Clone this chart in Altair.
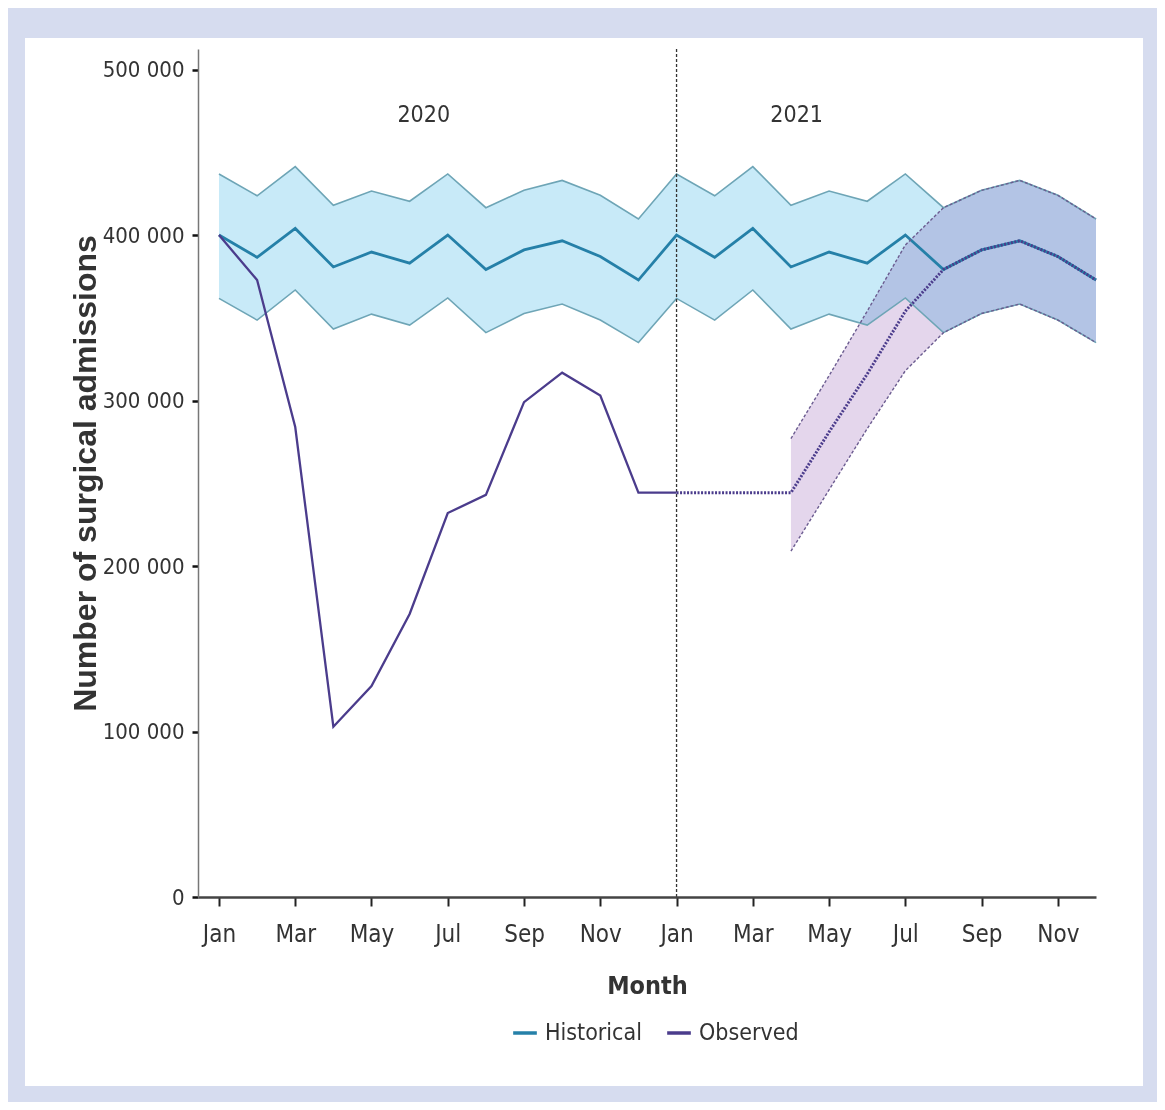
import altair as alt
import pandas as pd

# ---------------- data ----------------
months = list(range(24))  # 0 = Jan 2020 ... 23 = Dec 2021
tick_labels = ["Jan", "Mar", "May", "Jul", "Sep", "Nov"]

hist_mean = [400000, 386500, 404000, 380700, 389700, 383000, 400000, 379200, 391000, 396500, 387000, 372800,
             400000, 386500, 404000, 380700, 389700, 383000, 400000, 379200, 391000, 396500, 387000, 372800]
hist_upper = [436900, 423700, 441300, 418000, 426600, 420400, 436900, 416500, 427000, 433000, 424000, 409700,
              436900, 423700, 441300, 418000, 426600, 420400, 436900, 416500, 427000, 433000, 424000, 409700]
hist_lower = [361700, 348600, 366800, 343200, 352200, 345600, 362000, 341000, 352600, 358300, 348600, 335000,
              361700, 348600, 366800, 343200, 352200, 345600, 362000, 341000, 352600, 358300, 348600, 335000]

obs_months = list(range(13))
observed = [400000, 372800, 284000, 102900, 127500, 171000, 232000, 243000, 299000, 316800, 303000, 244300, 244300]

proj_center_months = list(range(12, 24))
proj_center = [244300, 244300, 244300, 244300, 281000, 316000, 354000, 379200, 391000, 396500, 387000, 372800]

proj_band_months = list(range(15, 24))
proj_upper = [277000, 315000, 354000, 394000, 416500, 427000, 433000, 424000, 409700]
proj_lower = [209000, 246000, 283000, 318000, 341000, 352600, 358300, 348600, 335000]

year_labels = ["2020", "2021"]
year_x = [5.37, 15.15]
year_y = [472500, 472500]

divider_month = [12]

# ---------------- tables ----------------
hist = pd.DataFrame({"m": months, "mean": hist_mean, "up": hist_upper, "lo": hist_lower})
lines = pd.concat([
    pd.DataFrame({"m": months, "v": hist_mean, "series": "Historical", "w": 2.8}),
    pd.DataFrame({"m": obs_months, "v": observed, "series": "Observed", "w": 2.3}),
])
pc = pd.DataFrame({"m": proj_center_months, "v": proj_center})
pb = pd.DataFrame({"m": proj_band_months, "up": proj_upper, "lo": proj_lower})
years = pd.DataFrame({"m": year_x, "v": year_y, "t": year_labels})
div = pd.DataFrame({"m": divider_month})

NARROW = "Liberation Sans Narrow, Arial Narrow, DejaVu Sans Condensed, sans-serif"
BOLD = "Liberation Sans, Arial, sans-serif"

label_js = "[" + ",".join("'%s'" % t for t in tick_labels) + "]"

xscale = alt.Scale(domain=[-0.55, 23], nice=False, zero=False)
yscale = alt.Scale(domain=[0, 512400], nice=False)

xaxis = alt.Axis(
    title="Month", values=list(range(0, 24, 2)),
    labelExpr=label_js + "[(datum.value % 12) / 2]",
    grid=False, domainColor="#444", domainWidth=2.5,
    tickColor="#222", tickWidth=2, tickSize=9,
    labelFont=NARROW, labelFontSize=24, labelColor="#333", labelPadding=16,
    titleFont=NARROW, titleFontSize=25, titleFontWeight="bold", titleColor="#333",
    titleY=96, titleBaseline="alphabetic", zindex=1,
)
yaxis = alt.Axis(
    title="Number of surgical admissions", values=[0, 100000, 200000, 300000, 400000, 500000],
    labelExpr="datum.value == 0 ? '0' : format(datum.value / 1000, 'd') + ' 000'",
    grid=False, domainColor="#777", domainWidth=1.5,
    tickColor="#111", tickWidth=2.5, tickSize=6,
    labelFont=NARROW, labelFontSize=22, labelColor="#333", labelPadding=8,
    titleFont=BOLD, titleFontSize=32, titleFontWeight="bold", titleColor="#333",
    titleX=-113, titleY=424, titleBaseline="middle", titleAngle=270, zindex=1,
)

X = lambda f="m": alt.X(f"{f}:Q", scale=xscale, axis=xaxis)
Xn = lambda f="m": alt.X(f"{f}:Q", scale=xscale)

panel = alt.Chart(pd.DataFrame({"a": [0]})).mark_rect(color="white").encode(
    x=alt.value(-173), x2=alt.value(945), y=alt.value(-11), y2=alt.value(1037)
)

hist_band = alt.Chart(hist).mark_area(color="#c8eaf8", opacity=1).encode(
    x=X(), y=alt.Y("up:Q", scale=yscale, axis=yaxis), y2="lo:Q"
)
proj_band = alt.Chart(pb).mark_area(color="#e4d6ec", opacity=1, blend="multiply").encode(
    x=Xn(), y=alt.Y("up:Q", scale=yscale), y2="lo:Q"
)
hist_up = alt.Chart(hist).mark_line(color="#6ea5b6", strokeWidth=1.6).encode(x=Xn(), y=alt.Y("up:Q", scale=yscale))
hist_lo = alt.Chart(hist).mark_line(color="#6ea5b6", strokeWidth=1.6).encode(x=Xn(), y=alt.Y("lo:Q", scale=yscale))

main_lines = alt.Chart(lines).mark_line().encode(
    x=Xn(), y=alt.Y("v:Q", scale=yscale),
    color=alt.Color("series:N", scale=alt.Scale(domain=["Historical", "Observed"], range=["#2580a8", "#4b3c8c"]),
                    legend=alt.Legend(title=None, orient="none", legendX=313, legendY=970, direction="horizontal",
                                      symbolType="stroke", symbolStrokeWidth=3.5, symbolSize=560,
                                      labelFont=NARROW, labelFontSize=23, labelColor="#333",
                                      labelOffset=6, columnPadding=18)),
    strokeWidth=alt.StrokeWidth("w:Q", scale=None, legend=None),
    detail="series:N",
)

proj_up = alt.Chart(pb).mark_line(color="#6b5c90", strokeWidth=1.4, strokeDash=[3, 2]).encode(
    x=Xn(), y=alt.Y("up:Q", scale=yscale))
proj_lo = alt.Chart(pb).mark_line(color="#6b5c90", strokeWidth=1.4, strokeDash=[3, 2]).encode(
    x=Xn(), y=alt.Y("lo:Q", scale=yscale))
proj_mid = alt.Chart(pc).mark_line(color="#4b3c8c", strokeWidth=3, strokeDash=[2, 1.5]).encode(
    x=Xn(), y=alt.Y("v:Q", scale=yscale))

divider = alt.Chart(div).mark_rule(color="#333", strokeWidth=1.3, strokeDash=[3, 2]).encode(x=Xn())

year_text = alt.Chart(years).mark_text(font=NARROW, fontSize=23, color="#333").encode(
    x=Xn(), y=alt.Y("v:Q", scale=yscale), text="t:N")

chart = alt.layer(
    panel, hist_band, proj_band, hist_up, hist_lo, divider, main_lines, proj_up, proj_lo, proj_mid, year_text
).properties(
    width=898, height=848,
    autosize=alt.AutoSizeParams(type="none"),
    padding={"left": 190, "top": 41, "right": 61, "bottom": 205},
    background="#d6dcef",
).configure_view(stroke=None)

chart.save("out.html", embed_options={"renderer": "svg", "actions": False})
